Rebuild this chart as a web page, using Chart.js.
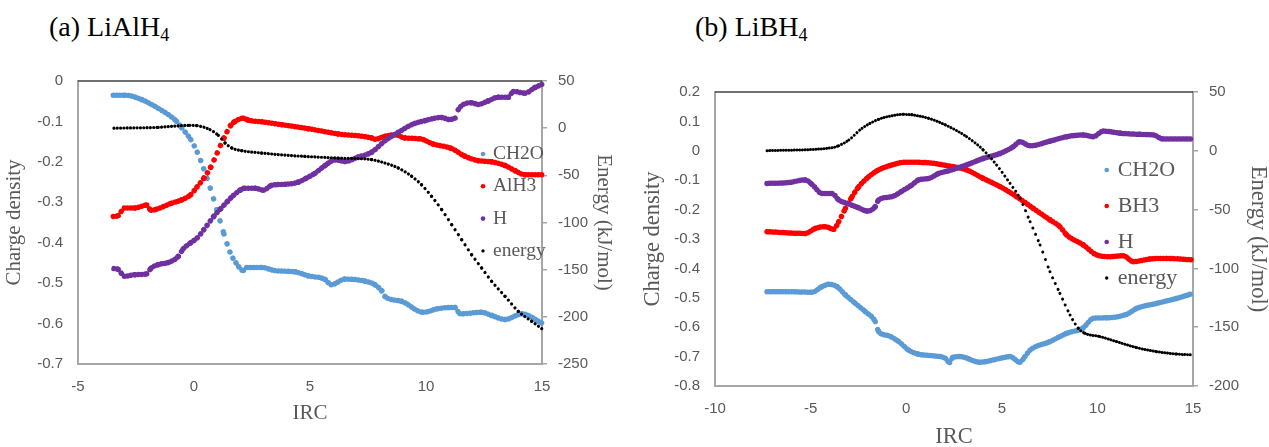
<!DOCTYPE html>
<html>
<head>
<meta charset="utf-8">
<script src="https://cdn.jsdelivr.net/npm/chart.js@4.4.1/dist/chart.umd.min.js"></script>
<style>
  body { margin: 0; width: 1269px; height: 447px; background: #fff; position: relative; overflow: hidden; }
  canvas { position: absolute; top: 0; }
  #chartA { left: 0; }
  #chartB { left: 634px; }
  .title { position: absolute; top: 13px; font-family: 'Liberation Serif', 'Times New Roman', serif; font-size: 28px; line-height: 28px; color: #000; white-space: nowrap; }
  .title sub { font-size: 18px; line-height: 0; vertical-align: -5px; }
</style>
</head>
<body>
<div class="title" style="left:49px">(a) LiAlH<sub>4</sub></div>
<div class="title" style="left:695px">(b) LiBH<sub>4</sub></div>
<canvas id="chartA" width="634" height="447"></canvas>
<canvas id="chartB" width="635" height="447"></canvas>
<script>
// ---- (a) LiAlH4 ----
const aXTicks = [-5, 0, 5, 10, 15];
const aCh2oX = [-3.48, -2.97, -2.25, -1.68, -1.11, -0.75, -0.53, -0.14, 0.14, 0.42, 0.70, 0.98, 1.29, 1.55, 1.81, 2.13, 2.27, 2.92, 3.49, 4.35, 4.93, 5.65, 5.91, 6.51, 7.37, 7.80, 8.09, 8.23, 8.95, 9.88, 10.53, 11.25, 11.47, 12.40, 12.83, 13.41, 14.13, 15.00];
const aCh2oY = [-0.035, -0.035, -0.046, -0.063, -0.083, -0.100, -0.116, -0.145, -0.176, -0.217, -0.265, -0.318, -0.378, -0.423, -0.450, -0.469, -0.461, -0.461, -0.469, -0.472, -0.482, -0.491, -0.504, -0.490, -0.495, -0.504, -0.519, -0.533, -0.545, -0.572, -0.563, -0.560, -0.576, -0.572, -0.580, -0.590, -0.576, -0.599];
const aAlh3X = [-3.48, -3.27, -3.00, -2.54, -2.04, -1.85, -1.61, -0.96, -0.53, -0.14, 0.13, 0.43, 0.72, 1.00, 1.29, 1.58, 1.77, 2.13, 2.35, 2.92, 3.78, 4.93, 6.22, 7.66, 7.80, 8.23, 8.66, 9.10, 9.74, 10.32, 11.10, 11.68, 12.25, 12.83, 13.41, 13.84, 14.27, 15.00];
const aAlh3Y = [-0.335, -0.333, -0.314, -0.314, -0.307, -0.320, -0.317, -0.302, -0.294, -0.281, -0.262, -0.240, -0.213, -0.178, -0.141, -0.110, -0.100, -0.092, -0.097, -0.101, -0.108, -0.118, -0.131, -0.141, -0.144, -0.137, -0.133, -0.141, -0.143, -0.156, -0.167, -0.186, -0.197, -0.200, -0.209, -0.222, -0.232, -0.232];
const aHX = [-3.45, -3.27, -3.00, -2.54, -2.04, -1.85, -1.54, -1.11, -0.68, -0.46, -0.14, 0.14, 0.42, 0.85, 1.15, 1.44, 1.70, 1.99, 2.20, 2.63, 2.99, 3.35, 4.06, 4.50, 4.85, 5.22, 5.65, 6.08, 6.51, 7.08, 7.66, 8.23, 8.81, 9.38, 9.96, 10.68, 10.97, 11.25, 11.39, 11.97, 12.25, 12.69, 13.12, 13.55, 13.77, 14.27, 14.70, 15.00];
const aHY = [-0.464, -0.466, -0.483, -0.479, -0.477, -0.463, -0.454, -0.449, -0.434, -0.415, -0.400, -0.388, -0.368, -0.335, -0.316, -0.298, -0.283, -0.270, -0.265, -0.265, -0.270, -0.258, -0.255, -0.250, -0.240, -0.228, -0.209, -0.195, -0.199, -0.188, -0.176, -0.148, -0.127, -0.108, -0.098, -0.090, -0.095, -0.092, -0.071, -0.054, -0.058, -0.049, -0.040, -0.040, -0.026, -0.030, -0.016, -0.008];
const aEnergyX = [-3.45, -1.54, -0.18, 0.14, 0.69, 1.05, 1.34, 1.63, 2.06, 2.92, 4.06, 4.78, 6.22, 7.66, 8.23, 8.81, 9.38, 9.81, 10.24, 10.68, 11.11, 11.54, 11.97, 12.40, 12.83, 13.41, 13.98, 14.56, 15.00];
const aEnergyY = [0.0, 0.9, 3.0, 2.6, -1.6, -7.6, -15.7, -21.0, -23.9, -26.4, -28.8, -29.9, -31.7, -33.4, -37.0, -42.3, -51.0, -60.0, -72.3, -86.5, -102.4, -118.3, -134.2, -148.3, -162.4, -178.3, -194.2, -204.8, -212.7];

// ---- (b) LiBH4 ----
const bCh2oX = [-7.28, -6.15, -4.93, -4.40, -4.05, -3.62, -3.18, -2.66, -2.14, -1.62, -1.44, -0.92, -0.39, 0.13, 0.65, 1.35, 2.05, 2.27, 2.45, 2.81, 3.86, 4.91, 5.43, 5.95, 6.21, 6.48, 7.52, 8.39, 9.26, 9.78, 10.49, 11.53, 12.06, 13.10, 14.15, 15.00];
const bCh2oY = [-0.479, -0.479, -0.481, -0.462, -0.454, -0.462, -0.490, -0.519, -0.547, -0.581, -0.615, -0.629, -0.649, -0.678, -0.692, -0.697, -0.706, -0.720, -0.702, -0.700, -0.719, -0.706, -0.700, -0.719, -0.700, -0.678, -0.649, -0.621, -0.602, -0.570, -0.568, -0.556, -0.536, -0.519, -0.502, -0.485];
const bBh3X = [-7.28, -5.28, -4.75, -4.23, -3.79, -3.53, -3.18, -2.83, -2.48, -1.96, -1.44, -0.74, -0.05, 1.00, 2.10, 3.16, 4.03, 4.91, 5.78, 6.65, 7.52, 8.04, 8.39, 9.26, 9.96, 10.66, 11.36, 11.88, 12.75, 13.62, 15.00];
const bBh3Y = [-0.275, -0.281, -0.264, -0.258, -0.267, -0.241, -0.196, -0.156, -0.122, -0.088, -0.065, -0.048, -0.039, -0.040, -0.050, -0.065, -0.094, -0.122, -0.156, -0.196, -0.235, -0.258, -0.286, -0.320, -0.354, -0.360, -0.357, -0.377, -0.368, -0.366, -0.371];
const bHX = [-7.28, -6.15, -5.28, -4.93, -4.40, -3.88, -3.53, -3.00, -2.48, -2.05, -1.62, -1.44, -0.74, -0.22, 0.30, 0.65, 1.18, 1.70, 2.22, 3.16, 4.03, 4.91, 5.60, 5.95, 6.48, 7.52, 8.39, 9.26, 9.78, 10.31, 11.19, 12.23, 12.93, 13.45, 14.50, 15.00];
const bHY = [-0.111, -0.108, -0.099, -0.114, -0.145, -0.145, -0.167, -0.181, -0.194, -0.205, -0.190, -0.167, -0.156, -0.137, -0.116, -0.099, -0.094, -0.077, -0.068, -0.048, -0.026, -0.009, 0.014, 0.031, 0.017, 0.033, 0.048, 0.054, 0.048, 0.067, 0.060, 0.056, 0.054, 0.040, 0.040, 0.040];
const bEnergyX = [-7.28, -3.88, -3.53, -3.00, -2.31, -1.44, -0.74, -0.13, 0.30, 1.18, 2.05, 3.16, 4.03, 4.73, 5.43, 5.95, 6.48, 7.00, 7.52, 8.04, 8.57, 9.00, 9.35, 10.14, 11.01, 12.06, 13.10, 14.15, 15.00];
const bEnergyY = [0.1, 2.6, 4.3, 9.2, 19.1, 26.8, 29.8, 31.0, 30.6, 27.6, 22.0, 12.0, 0.7, -12.1, -27.7, -40.4, -60.3, -80.1, -102.8, -121.2, -139.6, -150.9, -155.2, -158.0, -162.3, -167.4, -170.8, -172.8, -173.6];

const BLUE = '#5b9bd5', RED = '#ff0000', PURPLE = '#7030a0', BLACK = '#000000';
const GREY_TEXT = '#595959', AXIS = '#a6a6a6';
const TICK_FONT = { family: "'Liberation Sans', Arial, sans-serif", size: 15 };
const SERIF = "'Liberation Serif', 'Times New Roman', serif";

function pts(xs, ys) {
  return xs.map((x, i) => ({ x: x, y: ys[i] }));
}

// round dots spaced as if sampled at a fixed IRC step
function dotDash(step) {
  return function (ctx) {
    const dx = Math.abs(ctx.p1.x - ctx.p0.x);
    const dy = ctx.p1.y - ctx.p0.y;
    const gap = dx > 0.5 ? step * Math.hypot(dx, dy) / dx : step;
    return [0.01, gap];
  };
}

function series(label, data, color, width, axis, step, order) {
  return {
    label: label, data: data, yAxisID: axis, order: order,
    borderColor: color, backgroundColor: color,
    borderWidth: width, borderCapStyle: 'round',
    pointRadius: 0, cubicInterpolationMode: 'monotone', clip: false,
    segment: { borderDash: dotDash(step) }
  };
}

const inlineLegend = {
  id: 'inlineLegend',
  afterDatasetsDraw(chart, args, opts) {
    const { ctx, chartArea } = chart;
    ctx.save();
    // dark top edge of the plot area
    ctx.strokeStyle = '#404040';
    ctx.lineWidth = 1.5;
    ctx.beginPath();
    ctx.moveTo(chartArea.left, chartArea.top);
    ctx.lineTo(chartArea.right, chartArea.top);
    ctx.stroke();

    ctx.font = opts.size + 'px ' + SERIF;
    ctx.textBaseline = 'middle';
    chart.data.datasets.forEach((ds, i) => {
      const x = chartArea.left + opts.x;
      const y = chartArea.top + opts.y + i * opts.spacing;
      ctx.fillStyle = ds.borderColor;
      ctx.beginPath();
      ctx.arc(x, y, ds.borderWidth > 4 ? 2.3 : 1.7, 0, Math.PI * 2);
      ctx.fill();
      ctx.fillStyle = GREY_TEXT;
      ctx.fillText(ds.label, x + opts.gap, y);
    });
    ctx.restore();
  }
};

function makeChart(id, cfg) {
  return new Chart(document.getElementById(id), {
    type: 'line',
    data: { datasets: cfg.datasets },
    plugins: [inlineLegend],
    options: {
      responsive: false,
      animation: false,
      events: [],
      layout: { padding: { top: cfg.top, left: 0, right: 0, bottom: 0 } },
      plugins: {
        legend: { display: false },
        tooltip: { enabled: false },
        inlineLegend: cfg.legend
      },
      scales: {
        x: {
          type: 'linear', min: cfg.xMin, max: 15,
          ticks: { stepSize: 5, padding: 14, color: GREY_TEXT, font: TICK_FONT },
          grid: { display: false, drawTicks: false },
          border: { color: AXIS, width: 2 },
          title: { display: true, text: 'IRC', color: GREY_TEXT, font: { family: SERIF, size: cfg.titleSize, lineHeight: 1 }, padding: { top: 0, bottom: cfg.xTitlePad } },
          afterFit: (s) => { s.height = cfg.xHeight; }
        },
        y: {
          position: 'left', min: cfg.yMin, max: cfg.yMax,
          ticks: { stepSize: 0.1, padding: 15, color: GREY_TEXT, font: TICK_FONT },
          grid: { display: false, drawTicks: false },
          border: { color: AXIS, width: 2 },
          title: { display: true, text: 'Charge density', color: GREY_TEXT, font: { family: SERIF, size: cfg.titleSize, lineHeight: 1 }, padding: { top: cfg.yTitlePad, bottom: 0 } },
          afterFit: (s) => { s.width = cfg.yWidth; }
        },
        y1: {
          position: 'right', min: cfg.eMin, max: 50,
          ticks: { stepSize: 50, padding: 11, color: GREY_TEXT, font: TICK_FONT },
          grid: { display: true, drawOnChartArea: false, drawTicks: true, tickLength: 5, color: AXIS, lineWidth: 1.5 },
          border: { color: AXIS, width: 2 },
          title: { display: true, text: 'Energy (kJ/mol)', color: GREY_TEXT, font: { family: SERIF, size: cfg.titleSize, lineHeight: 1 }, padding: { top: cfg.eTitlePad, bottom: 0 } },
          afterFit: (s) => { s.width = cfg.eWidth; }
        }
      }
    }
  });
}

makeChart('chartA', {
  top: 81, xMin: -5, yMin: -0.7, yMax: 0, eMin: -250,
  xHeight: 83, yWidth: 78, eWidth: 92,
  titleSize: 21, xTitlePad: 23.5, yTitlePad: 4, eTitlePad: 19.5,
  legend: { x: 405, y: 73, spacing: 32.3, gap: 10, size: 19.5 },
  datasets: [
    series('CH2O', pts(aCh2oX, aCh2oY), BLUE, 5.5, 'y', 3.3, 3),
    series('AlH3', pts(aAlh3X, aAlh3Y), RED, 5.5, 'y', 3.3, 2),
    series('H', pts(aHX, aHY), PURPLE, 5.5, 'y', 3.3, 1),
    series('energy', pts(aEnergyX, aEnergyY), BLACK, 3.2, 'y1', 3.3, 0)
  ]
});

makeChart('chartB', {
  top: 92, xMin: -10, yMin: -0.8, yMax: 0.2, eMin: -200,
  xHeight: 61, yWidth: 81, eWidth: 76,
  titleSize: 22.5, xTitlePad: -1, yTitlePad: 7.75, eTitlePad: 0,
  legend: { x: 391.7, y: 78, spacing: 36, gap: 11, size: 22 },
  datasets: [
    series('CH2O', pts(bCh2oX, bCh2oY), BLUE, 5.5, 'y', 2.7, 3),
    series('BH3', pts(bBh3X, bBh3Y), RED, 5.5, 'y', 2.7, 2),
    series('H', pts(bHX, bHY), PURPLE, 5.5, 'y', 2.7, 1),
    series('energy', pts(bEnergyX, bEnergyY), BLACK, 3.0, 'y1', 2.7, 0)
  ]
});
</script>
</body>
</html>
